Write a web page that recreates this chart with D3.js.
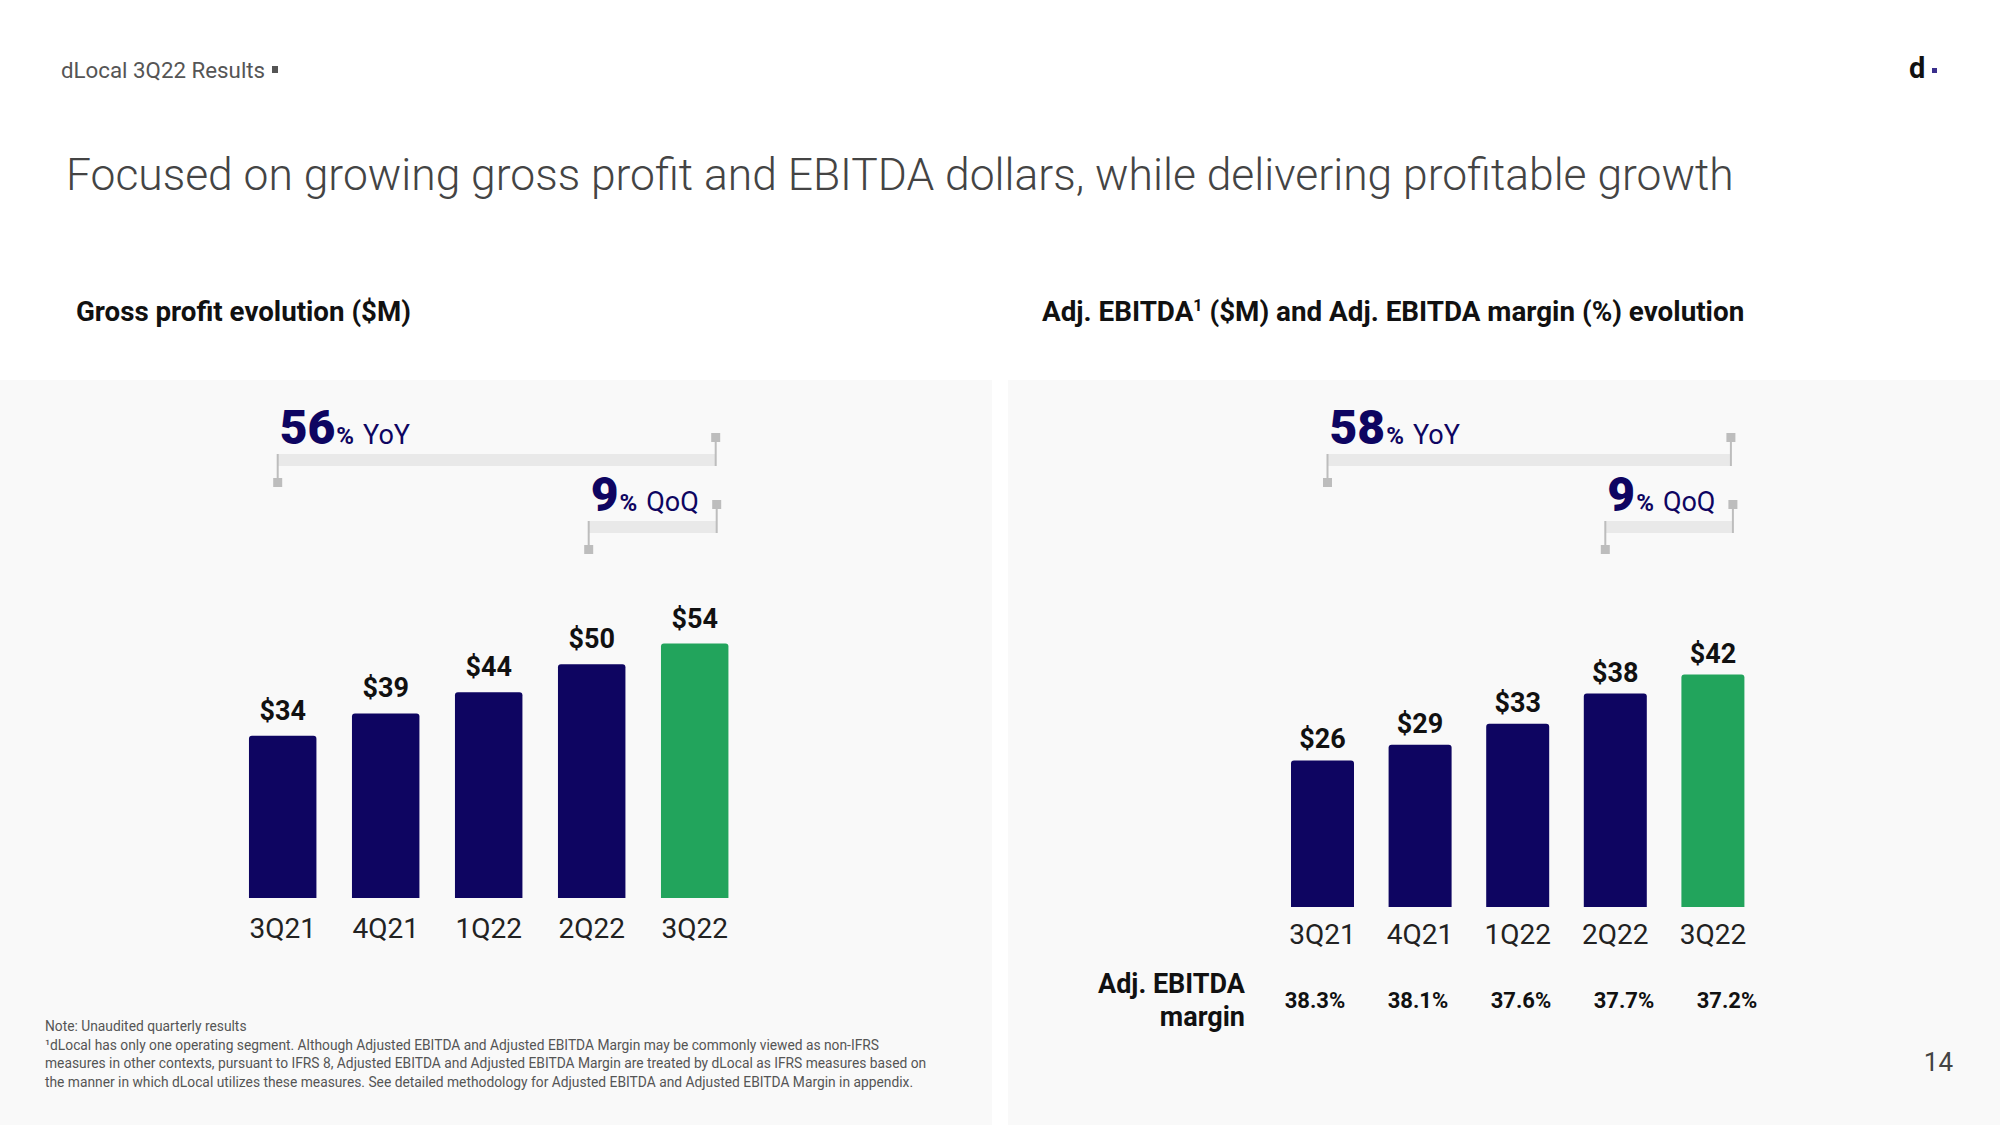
<!DOCTYPE html>
<html>
<head>
<meta charset="utf-8">
<script src="https://cdn.jsdelivr.net/npm/d3@7"></script>
<style>
  html, body { margin: 0; padding: 0; background: #ffffff; }
  svg { display: block; font-family: Roboto, "Noto Sans", sans-serif; }
</style>
</head>
<body>
<svg id="chart" width="2000" height="1125"></svg>
<script>
// ---------- data ----------
const categories = ["3Q21", "4Q21", "1Q22", "2Q22", "3Q22"];
const grossProfit = [34.4, 39.1, 43.6, 49.5, 53.9];      // $M
const adjEbitda = [26.3, 29.1, 32.9, 38.3, 41.7];        // $M
const adjEbitdaMargin = [38.3, 38.1, 37.6, 37.7, 37.2];  // %
const grossProfitGrowth = [56, 9];   // YoY, QoQ (%)
const adjEbitdaGrowth = [58, 9];     // YoY, QoQ (%)
const growthLabels = ["YoY", "QoQ"];

const footnotes = [
  "Note: Unaudited quarterly results",
  "\u00B9dLocal has only one operating segment. Although Adjusted EBITDA and Adjusted EBITDA Margin may be commonly viewed as non-IFRS",
  "measures in other contexts, pursuant to IFRS 8, Adjusted EBITDA and Adjusted EBITDA Margin are treated by dLocal as IFRS measures based on",
  "the manner in which dLocal utilizes these measures. See detailed methodology for Adjusted EBITDA and Adjusted EBITDA Margin in appendix."
];

// ---------- styles ----------
const NAVY = "#0e0561";
const GREEN = "#22a45c";
const PANEL = "#f9f9f9";
const BRACKET = "#e9e9e9";
const TICK = "#bdbdbd";

const svg = d3.select("#chart");

// page header
svg.append("text").attr("x", 61).attr("y", 78)
  .attr("font-size", 22.3).attr("fill", "#555").text("dLocal 3Q22 Results");
svg.append("rect").attr("x", 272).attr("y", 66).attr("width", 6).attr("height", 7).attr("fill", "#555");

// logo
svg.append("text").attr("x", 1909).attr("y", 78)
  .attr("font-size", 29).attr("font-weight", 700).attr("fill", "#111").text("d");
svg.append("rect").attr("x", 1932).attr("y", 68).attr("width", 5).attr("height", 5).attr("fill", "#3a2f8c");

// title
svg.append("text").attr("x", 66).attr("y", 190)
  .attr("font-size", 44.4).attr("font-weight", 300).attr("fill", "#444")
  .text("Focused on growing gross profit and EBITDA dollars, while delivering profitable growth");

// section headers
svg.append("text").attr("x", 76).attr("y", 321)
  .attr("font-size", 27.7).attr("font-weight", 700).attr("fill", "#111")
  .text("Gross profit evolution ($M)");
const h2 = svg.append("text").attr("x", 1042).attr("y", 321)
  .attr("font-size", 27.8).attr("font-weight", 700).attr("fill", "#111");
h2.append("tspan").text("Adj. EBITDA");
h2.append("tspan").attr("font-size", 16).attr("dy", -10).text("1");
h2.append("tspan").attr("dy", 10).text(" ($M) and Adj. EBITDA margin (%) evolution");

// panels
svg.append("rect").attr("x", 0).attr("y", 380).attr("width", 992).attr("height", 745).attr("fill", PANEL);
svg.append("rect").attr("x", 1008).attr("y", 380).attr("width", 992).attr("height", 745).attr("fill", PANEL);

// ---------- chart builder ----------
function topRoundedBar(x, y, w, h, r) {
  return `M${x},${y + h}V${y + r}Q${x},${y} ${x + r},${y}H${x + w - r}Q${x + w},${y} ${x + w},${y + r}V${y + h}Z`;
}

function drawChart(cfg) {
  const g = svg.append("g");
  const x = d3.scaleBand().domain(categories).range(cfg.xRange)
    .paddingInner(cfg.pad).paddingOuter(cfg.pad / 2);
  const y = d3.scaleLinear().domain([0, cfg.yMax]).range([cfg.base, cfg.base - cfg.yMax * cfg.k]);
  const bw = x.bandwidth();

  g.selectAll("path.bar").data(cfg.values).join("path")
    .attr("class", "bar")
    .attr("d", (d, i) => topRoundedBar(x(categories[i]), y(d), bw, y(0) - y(d), 3))
    .attr("fill", (d, i) => i === categories.length - 1 ? GREEN : NAVY);

  g.selectAll("text.val").data(cfg.values).join("text")
    .attr("class", "val")
    .attr("x", (d, i) => x(categories[i]) + bw / 2)
    .attr("y", d => y(d) - cfg.labelGap)
    .attr("text-anchor", "middle")
    .attr("font-size", 27).attr("font-weight", 700).attr("fill", "#111")
    .text(d => "$" + d3.format(".0f")(d));

  const axis = d3.axisBottom(x).tickSize(0).tickPadding(0);
  const ag = g.append("g").attr("transform", `translate(0,${cfg.labelY})`).call(axis);
  ag.select(".domain").remove();
  ag.selectAll("text").attr("y", 0).attr("dy", null)
    .attr("font-size", 28).attr("font-family", "Roboto, sans-serif").attr("fill", "#222");

  // growth brackets
  const brackets = [
    { from: 0, to: categories.length - 1, barY: 454, val: cfg.growth[0], lab: growthLabels[0], textY: 444, lo: cfg.yoyOff[0], ro: cfg.yoyOff[1] },
    { from: categories.length - 2, to: categories.length - 1, barY: 521, val: cfg.growth[1], lab: growthLabels[1], textY: 511, lo: cfg.qoqOff[0], ro: cfg.qoqOff[1] }
  ];
  brackets.forEach(b => {
    const x0 = x(categories[b.from]) + bw / 2 + b.lo;
    const x1 = x(categories[b.to]) + bw / 2 + b.ro;
    g.append("rect").attr("x", x0).attr("y", b.barY).attr("width", x1 - x0).attr("height", 12).attr("fill", BRACKET);
    // left tick (down)
    g.append("line").attr("x1", x0).attr("x2", x0).attr("y1", b.barY).attr("y2", b.barY + 25)
      .attr("stroke", TICK).attr("stroke-width", 2);
    g.append("rect").attr("x", x0 - 4.5).attr("y", b.barY + 24).attr("width", 9).attr("height", 9).attr("fill", TICK);
    // right tick (up)
    g.append("line").attr("x1", x1).attr("x2", x1).attr("y1", b.barY - 13).attr("y2", b.barY + 12)
      .attr("stroke", TICK).attr("stroke-width", 2);
    g.append("rect").attr("x", x1 - 4.5).attr("y", b.barY - 21).attr("width", 9).attr("height", 9).attr("fill", TICK);
    // text
    const t = g.append("text").attr("x", x0 + 2).attr("y", b.textY).attr("fill", NAVY);
    t.append("tspan").attr("font-size", 48).attr("font-weight", 900).text(b.val);
    t.append("tspan").attr("font-size", 24).attr("font-weight", 700).attr("dx", 1).text("%");
    t.append("tspan").attr("font-size", 27).attr("font-weight", 400).attr("dx", 9).text(b.lab);
  });
  return { x, y };
}

drawChart({
  values: grossProfit, xRange: [231.2, 746.2], pad: 0.345, base: 898, k: 4.72, yMax: 60,
  labelY: 938, labelGap: 16, growth: grossProfitGrowth, yoyOff: [-5, 21], qoqOff: [-3, 22]
});

drawChart({
  values: adjEbitda, xRange: [1273.7, 1761.7], pad: 0.3545, base: 907, k: 5.573, yMax: 50,
  labelY: 944, labelGap: 12, growth: adjEbitdaGrowth, yoyOff: [5, 18], qoqOff: [-10, 20]
});

// margin row
const xm = d3.scaleBand().domain(categories).range([1263.5, 1778.5]);
svg.append("g").selectAll("text").data(adjEbitdaMargin).join("text")
  .attr("x", (d, i) => xm(categories[i]) + xm.bandwidth() / 2)
  .attr("y", 1008)
  .attr("text-anchor", "middle")
  .attr("font-size", 22).attr("font-weight", 700).attr("fill", "#111")
  .text(d => d3.format(".1f")(d) + "%");
const ml = svg.append("text").attr("text-anchor", "end")
  .attr("font-size", 27).attr("font-weight", 700).attr("fill", "#111");
ml.append("tspan").attr("x", 1245).attr("y", 993).text("Adj. EBITDA");
ml.append("tspan").attr("x", 1245).attr("y", 1026).text("margin");

// footnotes
svg.append("g").selectAll("text").data(footnotes).join("text")
  .attr("x", 45).attr("y", (d, i) => 1031 + i * 18.5)
  .attr("font-size", 13.8).attr("fill", "#555")
  .text(d => d);

// page number
svg.append("text").attr("x", 1953).attr("y", 1071).attr("text-anchor", "end")
  .attr("font-size", 26).attr("fill", "#444").text("14");
</script>
</body>
</html>
